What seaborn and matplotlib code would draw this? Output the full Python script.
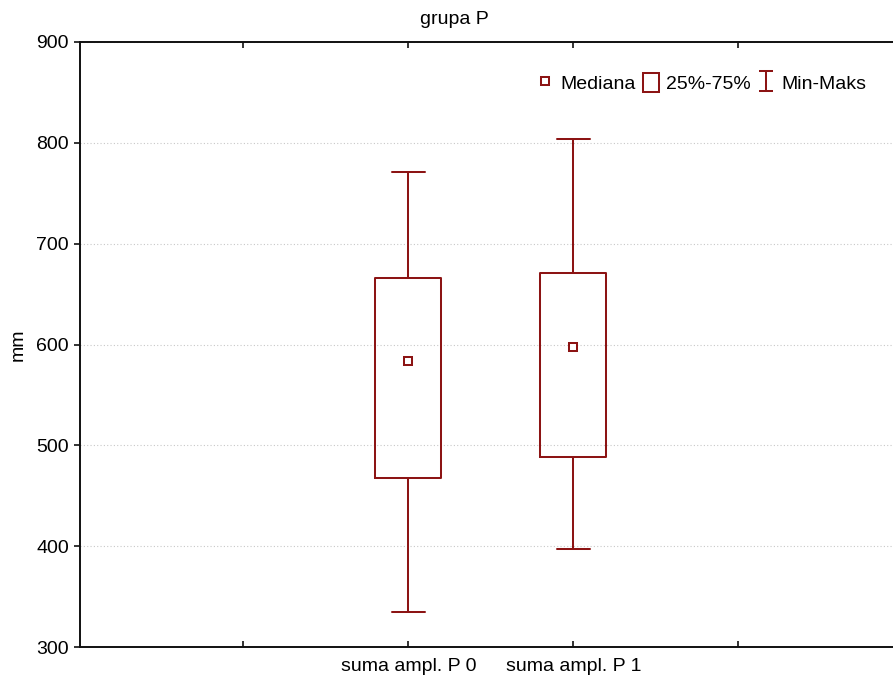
import numpy as np
import pandas as pd
import matplotlib
matplotlib.use("Agg")
import matplotlib.pyplot as plt
from matplotlib.lines import Line2D
from matplotlib.patches import Patch
from matplotlib.path import Path
import seaborn as sns

# Five-number summaries (min, Q1, median, Q3, max) for each variable
categories = ["suma ampl. P 0", "suma ampl. P 1"]
minimum = [335, 397]
q1 = [468, 488]
median = [584, 598]
q3 = [666, 671]
maximum = [771, 804]

y_ticks = [300, 400, 500, 600, 700, 800, 900]
legend_labels = ["Mediana", "25%-75%", "Min-Maks"]

RED = "#8c1414"
AXIS = "#101010"
LW = 1.45

sns.set_style("white")
plt.rcParams["font.family"] = ["Liberation Sans", "DejaVu Sans"]
plt.rcParams["text.color"] = "black"
plt.rcParams["axes.labelcolor"] = "black"

# Long-form table: five values per variable reproduce its quartiles exactly
rows = []
for i, cat in enumerate(categories):
    for v in (minimum[i], q1[i], median[i], q3[i], maximum[i]):
        rows.append({"zmienna": cat, "mm": v})
df = pd.DataFrame(rows)

fig = plt.figure(figsize=(8.93, 6.82), dpi=100)
ax = fig.add_axes([80 / 893, 35 / 682, 825 / 893, 605 / 682])

sns.boxplot(
    data=df, x="zmienna", y="mm", order=categories,
    whis=(0, 100), width=0.4, fill=False, color=RED, linewidth=LW,
    medianprops={"visible": False}, ax=ax,
)
sns.pointplot(
    data=df, x="zmienna", y="mm", order=categories,
    estimator="median", errorbar=None, linestyle="none",
    markers="s", color=RED, markersize=5.5, markeredgewidth=LW,
    markerfacecolor="white", markeredgecolor=RED, ax=ax,
)

ax.set_xlim(-1.99, 3.01)
ax.set_ylim(300, 900)
ax.set_xticks([-1, 0, 1, 2])
ax.set_xticklabels(["", categories[0], categories[1], ""])
ax.set_yticks(y_ticks)
ax.set_yticklabels([str(t) for t in y_ticks])
ax.set_xlabel("")
ax.set_ylabel("")

ax.tick_params(axis="x", direction="in", length=4, width=1.2, color=AXIS,
               top=True, bottom=True, labelsize=14, pad=8, labelcolor="black")
ax.tick_params(axis="y", direction="out", length=4, width=1.2, color=AXIS,
               left=True, right=False, labelsize=14, pad=4, labelcolor="black")

ax.yaxis.grid(True, linestyle=(0, (1, 2)), color="#c8c8c8", linewidth=0.8)
ax.xaxis.grid(False)
ax.set_axisbelow(True)
for side in ("left", "bottom", "top", "right"):
    ax.spines[side].set_color(AXIS)
    ax.spines[side].set_linewidth(1.4)

fig.text(454 / 893, 1 - 20 / 682, "grupa P", ha="center", va="center",
         fontsize=14, color="black")
fig.text(18 / 893, 1 - 345 / 682, "mm", ha="center", va="center",
         rotation=90, fontsize=14, color="black")

# Legend symbols: hollow square, box, and min-max whisker
ibeam = Path(
    [(-0.7, 1), (0.7, 1), (0, 1), (0, -1), (-0.7, -1), (0.7, -1)],
    [Path.MOVETO, Path.LINETO, Path.MOVETO, Path.LINETO,
     Path.MOVETO, Path.LINETO],
)
handles = [
    Line2D([], [], linestyle="none", marker="s", markersize=5.5,
           markerfacecolor="white", markeredgecolor=RED, markeredgewidth=LW),
    Patch(facecolor="white", edgecolor=RED, linewidth=LW),
    Line2D([], [], linestyle="none", marker=ibeam, markersize=15,
           markerfacecolor="none", markeredgecolor=RED, markeredgewidth=LW),
]
leg = fig.legend(
    handles, legend_labels, ncol=3, frameon=False, fontsize=14,
    loc="center right", bbox_to_anchor=(866 / 893, 1 - 83 / 682),
    handlelength=0.8, handleheight=1.1, handletextpad=0.36,
    columnspacing=0.4, borderpad=0, borderaxespad=0,
)
for t in leg.get_texts():
    t.set_color("black")

fig.savefig("out.png", dpi=100)
